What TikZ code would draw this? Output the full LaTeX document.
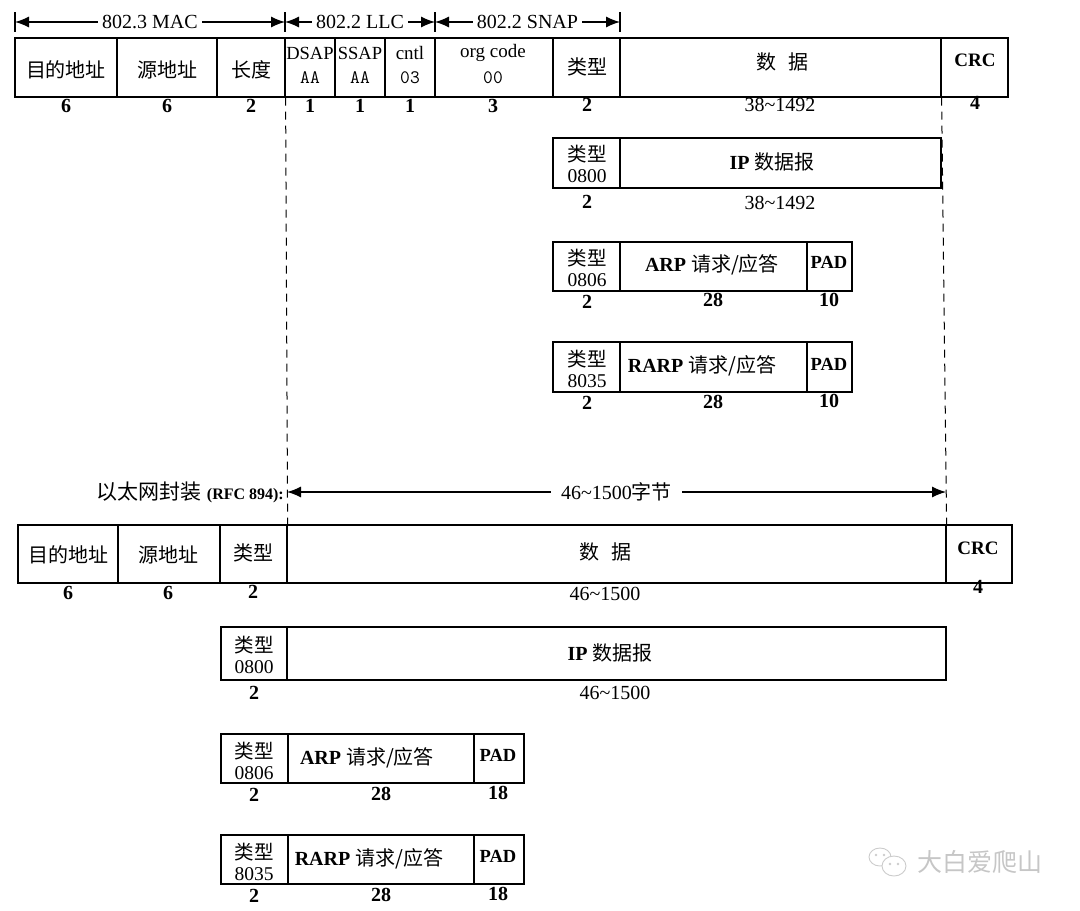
\documentclass[tikz,border=0pt]{standalone}
\usepackage{fontspec}
\setmainfont{Liberation Serif}
\newfontfamily\cjk{Noto Sans CJK SC}
\usetikzlibrary{arrows.meta}
\newcommand\zh[1]{{\cjk #1}}
\newcommand\cellat[5]{\node[cellbox, minimum width={(#4-#2)*1pt}, minimum height={(#5-#3)*1pt}] (#1) at ({(#2+#4)/2},{(#3+#5)/2}) {};}
\tikzset{
  cellbox/.style={draw, line width=1.2pt, inner sep=0pt},
  lbl/.style={inner sep=0pt, font=\fontsize{20}{22}\selectfont},
  two/.style={inner sep=0pt, align=center, font=\fontsize{19.5}{21}\selectfont},
  mono/.style={inner sep=0pt, font=\ttfamily\fontsize{19}{20}\selectfont},
  num/.style={inner sep=0pt, font=\bfseries\fontsize{20}{22}\selectfont},
  rng/.style={inner sep=0pt, font=\fontsize{20}{22}\selectfont},
  dimarrow/.style={line width=1.2pt, {Latex[length=14pt,width=11pt]}-{Latex[length=14pt,width=11pt]}},
  tickline/.style={line width=1.2pt},
  guide/.style={line width=1pt, dash pattern=on 8pt off 6pt},
  onwhite/.style={fill=white, inner xsep=4pt, inner ysep=1pt}
}
\begin{document}
\begin{tikzpicture}[x=1pt,y=-1pt]
\useasboundingbox (0,0) rectangle (1080,911);

% ---------- top: 802.3 / 802.2 header arrows ----------
\coordinate (m0) at (15,22);
\coordinate (m1) at (285,22);
\coordinate (m2) at (435,22);
\coordinate (m3) at (620,22);
\foreach \c in {m0,m1,m2,m3}{\draw[tickline] (\c) ++(0,-10) -- ++(0,20);}
\draw[dimarrow] (m0) -- node[lbl,onwhite] (macl) {802.3 MAC} (m1);
\draw[dimarrow] (m1) -- node[lbl,onwhite] (llcl) {802.2 LLC} (m2);
\draw[dimarrow] (m2) -- node[lbl,onwhite] (snapl) {802.2 SNAP} (m3);

% ---------- top frame (802.2/802.3) ----------
\cellat{t1}{15}{38}{117}{97}
\cellat{t2}{117}{38}{217}{97}
\cellat{t3}{217}{38}{285}{97}
\cellat{t4}{285}{38}{335}{97}
\cellat{t5}{335}{38}{385}{97}
\cellat{t6}{385}{38}{435}{97}
\cellat{t7}{435}{38}{553}{97}
\cellat{t8}{553}{38}{620}{97}
\cellat{t9}{620}{38}{941}{97}
\cellat{t10}{941}{38}{1008}{97}
\node[lbl] (t1l) at (66,70) {\zh{目的地址}};
\node[lbl] (t2l) at (167,70) {\zh{源地址}};
\node[lbl] (t3l) at (251,70) {\zh{长度}};
\node[lbl,font=\fontsize{18.5}{20}\selectfont] (t4l) at (310,53) {DSAP};
\node[mono] (t4v) at (310,78) {AA};
\node[lbl,font=\fontsize{18.5}{20}\selectfont] (t5l) at (360,53) {SSAP};
\node[mono] (t5v) at (360,78) {AA};
\node[lbl,font=\fontsize{19}{20}\selectfont] (t6l) at (410,53) {cntl};
\node[mono] (t6v) at (410,78) {03};
\node[lbl,font=\fontsize{19}{20}\selectfont] (t7l) at (493,53) {org code};
\node[mono] (t7v) at (493,78) {00};
\node[lbl] (t8l) at (587,67) {\zh{类型}};
\node[lbl] (t9l) at (782,62) {\zh{数\hspace{12pt}据}};
\node[lbl,font=\bfseries\fontsize{19}{20}\selectfont] (t10l) at (975,60) {CRC};
\node[num] (tn1) at (66,106) {6};
\node[num] (tn2) at (167,106) {6};
\node[num] (tn3) at (251,106) {2};
\node[num] (tn4) at (310,106) {1};
\node[num] (tn5) at (360,106) {1};
\node[num] (tn6) at (410,106) {1};
\node[num] (tn7) at (493,106) {3};
\node[num] (tn8) at (587,105) {2};
\node[rng] (tn9) at (780,105) {38\textasciitilde1492};
\node[num] (tn10) at (975,103) {4};

% ---------- IP (top) ----------
\cellat{i1}{553}{138}{620}{188}
\cellat{i2}{620}{138}{941}{188}
\node[two] (i1l) at (587,164) {\zh{类型}\\0800};
\node[lbl] (i2l) at (772,162) {\textbf{IP} \zh{数据报}};
\node[num] (in1) at (587,202) {2};
\node[rng] (in2) at (780,203) {38\textasciitilde1492};

% ---------- ARP (top) ----------
\cellat{a1}{553}{242}{620}{291}
\cellat{a2}{620}{242}{807}{291}
\cellat{a3}{807}{242}{852}{291}
\node[two] (a1l) at (587,268) {\zh{类型}\\0806};
\node[lbl] (a2l) at (712,265) {\textbf{ARP} \zh{请求/应答}};
\node[lbl,font=\bfseries\fontsize{18.5}{20}\selectfont] (a3l) at (829,262) {PAD};
\node[num] (an1) at (587,302) {2};
\node[num] (an2) at (713,300) {28};
\node[num] (an3) at (829,300) {10};

% ---------- RARP (top) ----------
\cellat{r1}{553}{342}{620}{392}
\cellat{r2}{620}{342}{807}{392}
\cellat{r3}{807}{342}{852}{392}
\node[two] (r1l) at (587,369) {\zh{类型}\\8035};
\node[lbl] (r2l) at (702,366) {\textbf{RARP} \zh{请求/应答}};
\node[lbl,font=\bfseries\fontsize{18.5}{20}\selectfont] (r3l) at (829,364) {PAD};
\node[num] (rn1) at (587,403) {2};
\node[num] (rn2) at (713,402) {28};
\node[num] (rn3) at (829,401) {10};

% ---------- RFC 894 ----------
\node[inner sep=0pt, anchor=east] (rfc) at (284,492)
  {{\cjk\fontsize{21}{23}\selectfont 以太网封装}\hspace{5pt}{\bfseries\fontsize{16}{18}\selectfont (RFC 894):}};
\coordinate (e0) at (287,492);
\coordinate (e1) at (946,492);
\draw[dimarrow] (e0) -- node[rng,onwhite,inner xsep=10pt] (el) {46\textasciitilde1500\zh{字节}} (e1);

% ---------- bottom frame (RFC 894) ----------
\cellat{b1}{18}{525}{118}{583}
\cellat{b2}{118}{525}{220}{583}
\cellat{b3}{220}{525}{287}{583}
\cellat{b4}{287}{525}{946}{583}
\cellat{b5}{946}{525}{1012}{583}
\node[lbl] (b1l) at (68,555) {\zh{目的地址}};
\node[lbl] (b2l) at (168,555) {\zh{源地址}};
\node[lbl] (b3l) at (253,553) {\zh{类型}};
\node[lbl] (b4l) at (605,552) {\zh{数\hspace{12pt}据}};
\node[lbl,font=\bfseries\fontsize{19}{20}\selectfont] (b5l) at (978,548) {CRC};
\node[num] (bn1) at (68,593) {6};
\node[num] (bn2) at (168,593) {6};
\node[num] (bn3) at (253,592) {2};
\node[rng] (bn4) at (605,594) {46\textasciitilde1500};
\node[num] (bn5) at (978,587) {4};

% ---------- dashed guides ----------
\draw[guide] (t3.south east) -- (b3.north east);
\draw[guide] (t9.south east) -- (b4.north east);

% ---------- IP (bottom) ----------
\cellat{c1}{221}{627}{287}{680}
\cellat{c2}{287}{627}{946}{680}
\node[two] (c1l) at (254,655) {\zh{类型}\\0800};
\node[lbl] (c2l) at (610,653) {\textbf{IP} \zh{数据报}};
\node[num] (cn1) at (254,693) {2};
\node[rng] (cn2) at (615,693) {46\textasciitilde1500};

% ---------- ARP (bottom) ----------
\cellat{d1}{221}{734}{288}{783}
\cellat{d2}{288}{734}{474}{783}
\cellat{d3}{474}{734}{524}{783}
\node[two] (d1l) at (254,761) {\zh{类型}\\0806};
\node[lbl] (d2l) at (367,758) {\textbf{ARP} \zh{请求/应答}};
\node[lbl,font=\bfseries\fontsize{18.5}{20}\selectfont] (d3l) at (498,755) {PAD};
\node[num] (dn1) at (254,795) {2};
\node[num] (dn2) at (381,794) {28};
\node[num] (dn3) at (498,793) {18};

% ---------- RARP (bottom) ----------
\cellat{e1b}{221}{835}{288}{884}
\cellat{e2b}{288}{835}{474}{884}
\cellat{e3b}{474}{835}{524}{884}
\node[two] (e1l) at (254,862) {\zh{类型}\\8035};
\node[lbl] (e2l) at (369,859) {\textbf{RARP} \zh{请求/应答}};
\node[lbl,font=\bfseries\fontsize{18.5}{20}\selectfont] (e3l) at (498,856) {PAD};
\node[num] (en1) at (254,896) {2};
\node[num] (en2) at (381,895) {28};
\node[num] (en3) at (498,894) {18};

% ---------- watermark ----------
\draw[gray!40, line width=0.9pt] (880,857) ellipse [x radius=11, y radius=9];
\fill[gray!40] (876,855) circle (1.3) (884,855) circle (1.3);
\draw[gray!40, line width=0.9pt, fill=white] (894,866) ellipse [x radius=12, y radius=10];
\fill[gray!40] (890,864) circle (1.3) (898,864) circle (1.3);
\node[inner sep=0pt, text=gray!45, font=\cjk\fontsize{25}{27}\selectfont] (wm) at (980,862) {大白爱爬山};
\end{tikzpicture}
\end{document}
